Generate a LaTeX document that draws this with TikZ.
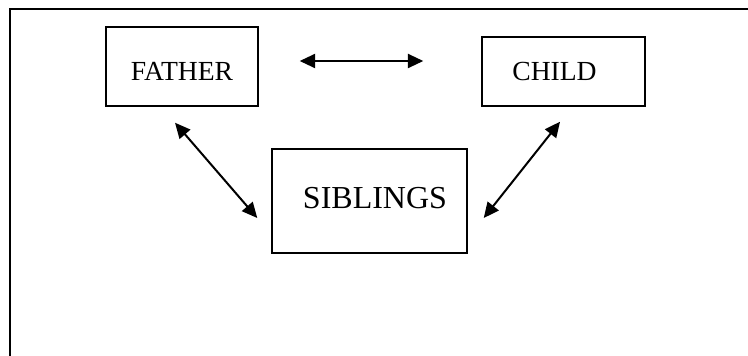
\documentclass[tikz,border=0pt]{standalone}
\usepackage{fontspec}
\setmainfont{Liberation Serif}
\usetikzlibrary{arrows.meta}

\tikzset{
    box/.style={draw, line width=1.1pt, inner sep=0pt, font=\fontsize{20.7}{24}\selectfont},
    link/.style={{Triangle[length=11.5pt,width=10.5pt]}-{Triangle[length=11.5pt,width=10.5pt]}, line width=1.5pt}
}

\begin{document}
\begin{tikzpicture}[x=0.75pt,y=-0.75pt]
    \clip (0,0) rectangle (748,356);
    \useasboundingbox (0,0) rectangle (748,356);
    \draw[line width=1.6pt] (10,9) rectangle (780,400);
    \node[box, minimum width=114pt, text height=40.5pt, text depth=18.75pt] (f) at (182,66.5)
            {FATHER};
    \node[box, minimum width=122.25pt, text height=33pt, text depth=18.75pt] (c) at (563.5,71.5)
            {CHILD\hspace*{13.5pt}};
    \node[box, minimum width=146.25pt, text height=44.25pt, text depth=33.75pt,
          font=\fontsize{24}{28}\selectfont] (s) at (369.5,201)
            {\hspace*{8.25pt}SIBLINGS};
    \draw[link] ([xshift=30.75pt,yshift=4.125pt]f.east) -- ([xshift=-43.5pt,yshift=7.875pt]c.west);
    \draw[link] ([xshift=-5.25pt,yshift=-12pt]f.south) -- ([xshift=-10.5pt,yshift=-12.75pt]s.west);
    \draw[link] ([xshift=-2.6pt,yshift=-11.25pt]c.south) -- ([xshift=12pt,yshift=-12.75pt]s.east);
\end{tikzpicture}
\end{document}
